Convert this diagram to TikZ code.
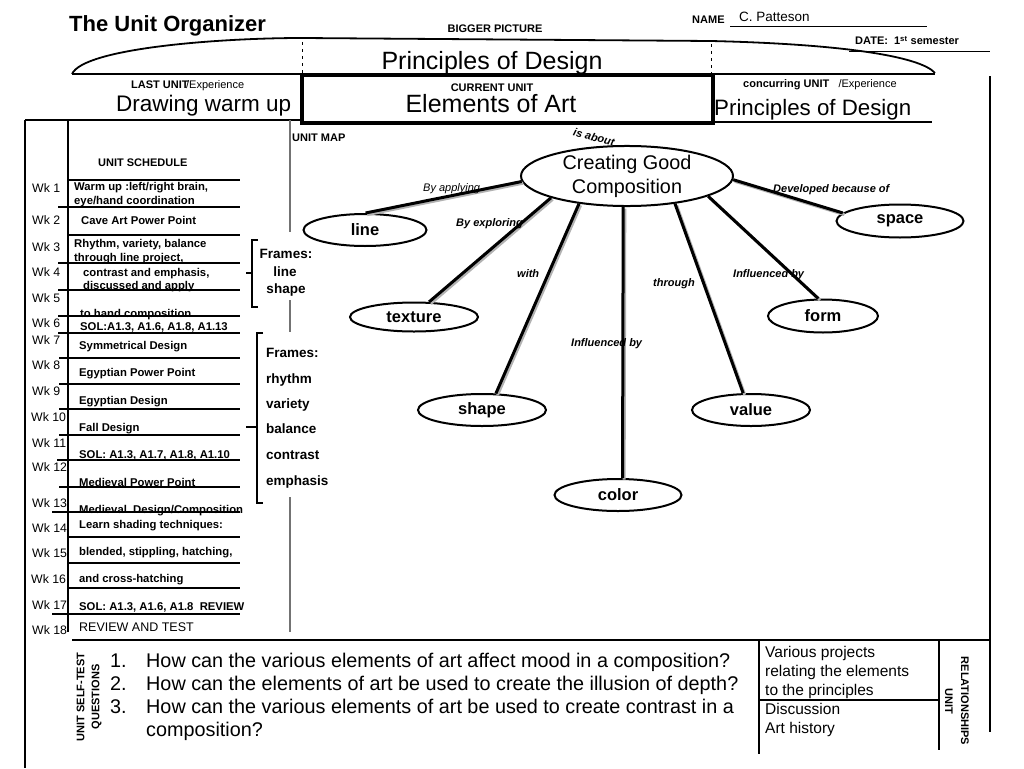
\documentclass[tikz,border=0pt]{standalone}
\usepackage{fontspec}
\setmainfont{Liberation Sans}
\usetikzlibrary{shapes.geometric}
\newcommand\fz[2]{\fontsize{#1}{#2}\selectfont}
\begin{document}
\begin{tikzpicture}[x=1pt,y=-1pt,
  lbl/.style={inner sep=0pt, anchor=base west, font=\fz{11}{13}\bfseries},
  wk/.style={inner sep=0pt, anchor=base west, font=\fz{12.3}{14}},
  sch/.style={inner sep=0pt, anchor=base west, font=\fz{11.3}{13}\bfseries},
  frm/.style={inner sep=0pt, anchor=base west, font=\fz{13.5}{16}\bfseries},
  cl/.style={inner sep=0pt, anchor=base west, font=\fz{11}{13}\bfseries\itshape},
  qq/.style={inner sep=0pt, anchor=base west, font=\fz{19.8}{23}},
  rb/.style={inner sep=0pt, anchor=base west, font=\fz{15.5}{19}},
  elt/.style={ellipse, draw, line width=2pt, inner sep=0pt, font=\fz{16.5}{18}\bfseries},
  conn/.style={line width=3pt, preaction={draw, black!30, line width=3pt, transform canvas={shift={(1.6pt,-1.6pt)}}}},
  rule/.style={line width=1.1pt},
  brace/.style={line width=1.6pt}
]
\useasboundingbox (0,0) rectangle (1024,768);
\fill[white] (0,0) rectangle (1024,768);

% ---------- header ----------
\node[inner sep=0pt, anchor=base west, font=\fz{22}{26}\bfseries] (title) at (69,32) {The Unit Organizer};
\node[inner sep=0pt, anchor=base, font=\fz{11}{13}\bfseries] (bigger) at (495,33) {BIGGER PICTURE};
\node[lbl] (namel) at (692,24) {NAME};
\node[inner sep=0pt, anchor=base west, font=\fz{13.5}{16}] (name) at (739,22) {C. Patteson};
\draw[line width=0.8pt] (730,26) -- (927,26);
\node[lbl] (date) at (855,45) {DATE:\ \ 1\textsuperscript{st} semester};
\draw[line width=0.8pt] (849,51) -- (990,51);

% bigger picture arc
\draw[line width=1.8pt] (72,74) .. controls (84,48) and (220,38) .. (302,38) -- (711,41) .. controls (840,44) and (920,56) .. (935,73);
\draw[line width=1.2pt] (72,74) -- (935,74);
\draw[line width=0.8pt, dash pattern=on 3pt off 4pt] (302,42) -- (302,74);
\draw[line width=0.8pt, dash pattern=on 3pt off 4pt] (711,44) -- (711,74);
\node[inner sep=0pt, anchor=base, font=\fz{25}{30}] (bigp) at (492,70) {Principles of Design};

% last unit
\node[inner sep=0pt, anchor=base west, font=\fz{11}{13}] (lastl) at (131,88) {\bfseries LAST UNIT\kern-2.5pt\mdseries/Experience};
\node[inner sep=0pt, anchor=base west, font=\fz{22.5}{26}] (last) at (116,111) {Drawing warm up};

% current unit
\draw[line width=4.5pt] (302,75) rectangle (713,123);
\node[inner sep=0pt, anchor=base, font=\fz{11}{13}\bfseries] (curl) at (492,91) {CURRENT UNIT};
\node[inner sep=0pt, anchor=base, font=\fz{25}{30}] (cur) at (491,112) {Elements of Art};

% concurring unit
\node[inner sep=0pt, anchor=base west, font=\fz{11}{13}] (conl) at (743,87) {\bfseries concurring UNIT\mdseries\ \ \ /Experience};
\node[inner sep=0pt, anchor=base west, font=\fz{22.3}{26}] (con) at (714,115) {Principles of Design};

% frame lines
\draw[line width=2pt] (25,120) -- (302,120);
\draw[line width=2pt] (713,122) -- (932,122);
\draw[line width=2.2pt] (990,76) -- (990,732);
\draw[line width=1.5pt] (25,120) -- (25,768);
\draw[line width=1.2pt] (68,120) -- (68,632);
\draw[line width=1.2pt, black!55] (290,120) -- (290,232);
\draw[line width=1.2pt, black!55] (290,300) -- (290,332);
\draw[line width=1.2pt, black!55] (290,497) -- (290,632);
\draw[line width=2.6pt] (72,640) -- (989,640);
\draw[line width=2pt] (759,640) -- (759,754);
\draw[line width=1.2pt] (939,640) -- (939,750);
\draw[line width=1.2pt] (759,700) -- (939,700);

% ---------- schedule ----------
\node[lbl] (sched) at (98,166) {UNIT SCHEDULE};
\node[lbl] (umap) at (292,141) {UNIT MAP};

\foreach \yy/\xa in {180/68,207/58,235/68,263/58,290/58,316/58,333/58,358/59,384/59,409/59,435/59,460/57,487/59,512/52,537/68,563/68,588/68,614/52}
  \draw[rule] (\xa,\yy) -- (240,\yy);

\node[wk] (w1) at (32,192) {Wk 1};
\node[wk] (w2) at (32,224) {Wk 2};
\node[wk] (w3) at (32,251) {Wk 3};
\node[wk] (w4) at (32,276) {Wk 4};
\node[wk] (w5) at (32,302) {Wk 5};
\node[wk] (w6) at (32,327) {Wk 6};
\node[wk] (w7) at (32,344) {Wk 7};
\node[wk] (w8) at (32,369) {Wk 8};
\node[wk] (w9) at (32,395) {Wk 9};
\node[wk] (w10) at (31,421) {Wk 10};
\node[wk] (w11) at (32,447) {Wk 11};
\node[wk] (w12) at (32,471) {Wk 12};
\node[wk] (w13) at (32,507) {Wk 13};
\node[wk] (w14) at (32,532) {Wk 14};
\node[wk] (w15) at (32,557) {Wk 15};
\node[wk] (w16) at (31,583) {Wk 16};
\node[wk] (w17) at (32,609) {Wk 17};
\node[wk] (w18) at (32,634) {Wk 18};

\node[sch] (s1a) at (74,190) {Warm up :left/right brain,};
\node[sch] (s1b) at (74,204) {eye/hand coordination};
\node[sch] (s2) at (81,224) {Cave Art Power Point};
\node[sch] (s3a) at (74,247) {Rhythm, variety,\ balance};
\node[sch] (s3b) at (74,261) {through line project,};
\node[sch] (s4a) at (83,276) {contrast and emphasis,};
\node[sch] (s4b) at (83,289) {discussed and apply};
\node[sch] (s5) at (80,317) {to hand composition};
\node[sch] (s6) at (80,330) {SOL:A1.3, A1.6, A1.8, A1.13};
\node[sch] (s7) at (79,349) {Symmetrical Design};
\node[sch] (s8) at (79,376) {Egyptian Power Point};
\node[sch] (s9) at (79,404) {Egyptian Design};
\node[sch] (s10) at (79,431) {Fall Design};
\node[sch] (s11) at (79,458) {SOL: A1.3, A1.7, A1.8, A1.10};
\node[sch] (s12) at (79,486) {Medieval Power Point};
\node[sch] (s13) at (79,513) {Medieval\ \ Design/Composition};
\node[sch] (s14) at (79,528) {Learn shading techniques:};
\node[sch] (s15) at (79,555) {blended, stippling, hatching,};
\node[sch] (s16) at (79,582) {and cross-hatching};
\node[sch] (s17) at (79,610) {SOL: A1.3, A1.6, A1.8\ \ REVIEW};
\node[inner sep=0pt, anchor=base west, font=\fz{12.5}{14}] (s18) at (79,631) {REVIEW AND TEST};

% ---------- frames / braces ----------
\draw[brace] (258,240) -- (252,240) -- (252,307) -- (258,307);
\draw[brace] (252,273) -- (246,273);
\node[inner sep=0pt, anchor=base, font=\fz{13.5}{16}\bfseries] (fa1) at (286,258) {Frames:};
\node[inner sep=0pt, anchor=base, font=\fz{13.5}{16}\bfseries] (fa2) at (285,276) {line};
\node[inner sep=0pt, anchor=base, font=\fz{13.5}{16}\bfseries] (fa3) at (286,293) {shape};

\draw[brace] (263,333) -- (257,333) -- (257,503) -- (263,503);
\draw[brace] (257,427) -- (246,427);
\node[frm] (fb1) at (266,357) {Frames:};
\node[frm] (fb2) at (266,383) {rhythm};
\node[frm] (fb3) at (266,408) {variety};
\node[frm] (fb4) at (266,433) {balance};
\node[frm] (fb5) at (266,459) {contrast};
\node[frm] (fb6) at (266,485) {emphasis};

% ---------- unit map ----------
\node[ellipse, draw, line width=2pt, inner sep=0pt, minimum width=212, minimum height=58,
      align=center, font=\fz{19.8}{24}] (comp) at (627,176) {Creating Good\\Composition};
\node[elt, minimum width=123, minimum height=32] (line) at (365,230) {line};
\node[elt, minimum width=128, minimum height=29] (texture) at (414,317) {texture};
\node[elt, minimum width=128, minimum height=32] (shape) at (482,410) {shape};
\node[elt, minimum width=127, minimum height=32] (color) at (618,495) {color};
\node[elt, minimum width=118, minimum height=32] (value) at (751,410) {value};
\node[elt, minimum width=110, minimum height=33] (form) at (823,316) {form};
\node[elt, minimum width=127, minimum height=33] (space) at (900,221) {space};

\draw[conn] (comp.183) -- (line.88);
\draw[conn] (comp.196) -- (texture.45);
\draw[conn] (comp.210) -- (shape.50);
\draw[conn] (comp.263) -- (color.75);
\draw[conn] (comp.330) -- (value.115);
\draw[conn] (comp.346) -- (form.105);
\draw[conn] (comp.358) -- (space.172);

\node[inner sep=0pt, rotate=-15, font=\fz{11}{13}\bfseries\itshape] (isab) at (594,137) {is about};
\node[inner sep=0pt, anchor=base west, font=\fz{11}{13}\itshape] (byap) at (423,191) {By applying};
\node[cl] (byex) at (456,226) {By exploring};
\node[cl] (with) at (517,277) {with};
\node[cl] (thr) at (653,286) {through};
\node[cl] (inf1) at (733,277) {Influenced by};
\node[cl] (inf2) at (571,346) {Influenced by};
\node[cl] (dev) at (773,192) {Developed because of};

% ---------- bottom ----------
\node[inner sep=0pt, rotate=90, align=center, font=\fz{11}{15}\bfseries] (self) at (89,697) {UNIT SELF-TEST\\QUESTIONS};
\node[qq] (n1) at (110,667) {1.};
\node[qq] (q1) at (146,667) {How can the various elements of art affect mood in a composition?};
\node[qq] (n2) at (110,690) {2.};
\node[qq] (q2) at (146,690) {How can the elements of art be used to create the illusion of depth?};
\node[qq] (n3) at (110,713) {3.};
\node[qq] (q3) at (146,713) {How can the various elements of art be used to create contrast in a};
\node[qq] (q3b) at (146,736) {composition?};

\node[rb] (r1) at (765,657) {Various projects};
\node[rb] (r2) at (765,676) {relating the elements};
\node[rb] (r3) at (765,695) {to the principles};
\node[rb] (r4) at (765,714) {Discussion};
\node[rb] (r5) at (765,733) {Art history};
\node[inner sep=0pt, rotate=-90, align=center, font=\fz{11}{16}\bfseries] (rel) at (957,701) {RELATIONSHIPS\\UNIT};
\end{tikzpicture}
\end{document}
